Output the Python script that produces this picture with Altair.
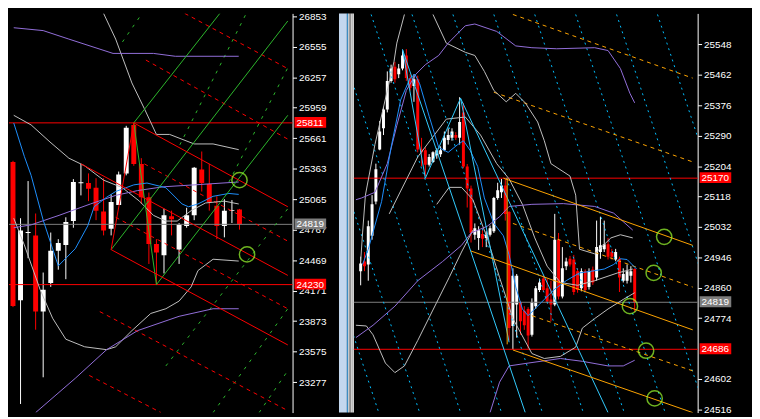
import altair as alt
import pandas as pd

FONT = "Liberation Sans"
H = 404          # plot height of both windows
LW, RW = 287, 348
GAP = 62         # left price scale + window splitter

# ---------------- left window (bar index, price) ----------------
L_OPEN = [25428, 24078, 24735, 24711, 23966, 24246, 24562, 24618, 24851, 25220,
          25223, 25177, 24944, 24776, 25009, 25317, 25791, 25410, 25084, 24627,
          24516, 24897, 24572, 24804, 24907, 25354, 25214, 25000, 24804, 24950, 24963]
L_HIGH = [25440, 24879, 25242, 24925, 24348, 24739, 24674, 24888, 25261, 25410,
          25317, 25270, 25270, 25112, 25335, 25782, 25810, 25466, 25130, 24674,
          24972, 24953, 24832, 24981, 25380, 25531, 25410, 25093, 25065, 25056, 24970]
L_LOW = [24010, 23063, 24488, 23789, 23324, 24208, 24376, 24283, 24786, 25102,
         25046, 24860, 24711, 24711, 25009, 25298, 25391, 25018, 24432, 24232,
         24339, 24711, 24432, 24786, 24860, 25140, 24953, 24674, 24692, 24832, 24767]
L_CLOSE = [24022, 24758, 24745, 23966, 24180, 24562, 24637, 24842, 25233, 25230,
           25168, 24953, 24758, 25037, 25307, 25764, 25410, 25084, 24627, 24544,
           24907, 24870, 24814, 24907, 25372, 25223, 25037, 24804, 24953, 24958, 24819]
L_TICKS = [23277, 23575, 23873, 24171, 24469, 24767, 25065, 25363, 25661,
           25959, 26257, 26555, 26853]
L_RED_LEVELS = [25811, 24230]
L_GRAY_LEVELS = [24819]

L_RED_SOLID = [
    [[13, 24572], [16, 25811]],
    [[16, 25811], [36.4, 24991]],
    [[9, 25410], [36.4, 24320]],
    [[13, 24572], [36.4, 23640]],
]
L_RED_DASH = [
    [[22.75, 26881], [36.4, 26341]],
    [[17.6, 26425], [36.4, 25652]],
    [[17.4, 25410], [36.4, 24655]],
    [[13.6, 24888], [36.4, 23994]],
    [[11.5, 23966], [36.4, 22998]],
    [[10.1, 23342], [19.6, 22979]],
]
L_GREEN_SOLID = [
    [[16, 25811], [27.4, 26881]],
    [[13, 24572], [36.4, 26807]],
    [[19, 24230], [36.4, 25885]],
    [[16, 25811], [19, 24230]],
]
L_GREEN_DASH = [
    [[14.5, 26602], [17.1, 26881]],
    [[22.1, 25596], [30.9, 26881]],
    [[28.6, 25233], [36.4, 26350]],
    [[20.25, 23435], [36.4, 24972]],
    [[26.5, 22979], [36.4, 23994]],
    [[32.6, 22979], [36.4, 23389]],
]
L_PURPLE = [
    [[0.1, 26741], [4, 26713], [7.4, 26630], [13.25, 26490], [18.6, 26490],
     [21.5, 26462], [29.9, 26462]],
    [[0.1, 24786], [2.4, 24814], [6.1, 24907], [10.25, 25018], [13.6, 25102],
     [16.5, 25149], [19.9, 25186], [24, 25205], [29.9, 25233]],
    [[3, 22979], [8.25, 23314], [12.4, 23594], [16.5, 23780], [22, 23920],
     [26.5, 23994], [29.9, 23994]],
]
L_GRAY = [
    [[12, 26881], [13.6, 26630], [15.75, 26201], [17.4, 25950], [19, 25698],
     [20.75, 25698], [24, 25605], [26.5, 25605], [29.9, 25549]],
    [[0.1, 25885], [2.4, 25791], [4.9, 25624], [7.4, 25466], [9.5, 25391],
     [12, 25251], [14.5, 25177], [16.75, 25046], [18.6, 24907], [20.25, 24851],
     [21.75, 24851], [23.6, 24953], [25.5, 25028], [28, 25046], [29.9, 25018]],
    [[0.1, 24879], [1.5, 24618], [3.6, 24180], [5.25, 23901], [7, 23696],
     [9.5, 23622], [12.4, 23594], [13.6, 23622], [15.75, 23780], [18.25, 23948],
     [20.25, 23994], [22, 24069], [23.6, 24208], [24.5, 24367], [26.5, 24478],
     [29.9, 24460]],
]
L_BLUE = [
    [[0.1, 25810], [1.5, 25484], [2.4, 25298], [4, 24860], [6, 24413],
     [8.25, 24581], [9.9, 24804], [10.75, 24991], [12.4, 25084], [13.6, 25140],
     [16, 25205], [17.75, 25223], [20.25, 25177], [22.4, 25018], [23.25, 24991],
     [24.5, 25018], [26.5, 25093], [28.6, 25121], [29.9, 25112]],
]
L_CIRCLES = [[30, 25251], [31, 24525]]

# ---------------- right window ----------------
R_OPEN = [24907, 24934, 24926, 25007, 25104, 25251, 25311, 25364, 25445, 25485,
          25464, 25480, 25517, 25453, 25431, 25450, 25251, 25249, 25208, 25216,
          25235, 25238, 25249, 25278, 25284, 25292, 25284, 25356, 25203, 25141,
          25010, 25001, 25012, 25001, 25010, 25020, 25114, 25130, 25149, 25074,
          24752, 24813, 24819, 24795, 24800, 24727, 24808, 24854, 24886, 24859,
          24827, 24813, 24996, 24835, 24921, 24942, 24940, 24907, 24859, 24907,
          24862, 24912, 24889, 24961, 24969, 24983, 24961, 24940, 24942, 24880,
          24880, 24894, 24913]
R_HIGH = [24948, 24961, 25050, 25122, 25211, 25332, 25372, 25472, 25491, 25499,
          25493, 25531, 25535, 25464, 25464, 25460, 25284, 25257, 25238, 25246,
          25255, 25260, 25302, 25311, 25311, 25300, 25399, 25383, 25210, 25149,
          25042, 25034, 25028, 25020, 25036, 25117, 25157, 25168, 25168, 25077,
          24915, 24899, 24822, 24808, 24805, 24830, 24865, 24886, 24894, 24886,
          24880, 25069, 25015, 24975, 24945, 24950, 24953, 24915, 24915, 24912,
          24915, 24920, 25050, 25061, 25050, 25001, 24970, 24970, 24948, 24915,
          24926, 24921, 24915]
R_LOW = [24867, 24907, 24880, 24996, 25096, 25249, 25292, 25356, 25440, 25440,
         25453, 25475, 25445, 25418, 25386, 25243, 25203, 25176, 25203, 25213,
         25225, 25230, 25246, 25265, 25276, 25278, 25265, 25198, 25087, 24988,
         24996, 24967, 24975, 24975, 25005, 25015, 25109, 25114, 25050, 24711,
         24686, 24719, 24727, 24741, 24688, 24722, 24800, 24848, 24848, 24816,
         24765, 24808, 24827, 24830, 24910, 24920, 24840, 24846, 24850, 24848,
         24855, 24868, 24880, 24942, 24961, 24940, 24940, 24935, 24848, 24875,
         24872, 24875, 24792]
R_CLOSE = [24929, 24921, 25034, 25096, 25195, 25302, 25364, 25445, 25480, 25450,
           25480, 25517, 25453, 25426, 25450, 25251, 25243, 25208, 25230, 25243,
           25249, 25249, 25284, 25292, 25302, 25284, 25329, 25203, 25141, 25015,
           25028, 25023, 24999, 25010, 25028, 25114, 25136, 25149, 25069, 24746,
           24894, 24894, 24765, 24754, 24725, 24819, 24859, 24875, 24854, 24821,
           24813, 24996, 24835, 24915, 24934, 24926, 24848, 24854, 24907, 24854,
           24907, 24875, 24975, 24980, 24983, 24948, 24948, 24961, 24889, 24899,
           24907, 24907, 24819]
# 24688 sits under the 24686 tag in the terminal, so it is not listed
R_TICKS = [24516, 24602, 24774, 24860, 24946, 25032, 25118, 25204,
           25290, 25376, 25462, 25548]
R_RED_LEVELS = [25170, 24686]
R_GRAY_LEVELS = [24819]

R_CYAN_DOT = [
    [[-29.5, 25633], [4.75, 24507]],
    [[-18.75, 25633], [15.5, 24507]],
    [[-8, 25633], [26.25, 24507]],
    [[2.75, 25633], [37, 24507]],
    [[13.5, 25633], [47.75, 24507]],
    [[24.25, 25633], [58.5, 24507]],
    [[35, 25633], [69.25, 24507]],
    [[45.75, 25633], [80, 24507]],
    [[56.5, 25633], [90.75, 24507]],
    [[67.25, 25633], [101.5, 24507]],
    [[78, 25633], [112.25, 24507]],
]
R_CYAN_SOLID = [
    [[11, 25534], [17, 25170]],
    [[17, 25170], [26.25, 25396]],
    [[26.25, 25396], [39, 24706]],
    [[11, 25534], [43.25, 24507]],
    [[26.25, 25396], [65, 24507]],
]
R_ORANGE = [
    [[37.5, 25170], [87.25, 24980]],
    [[29, 24964], [87.25, 24741]],
    [[40, 24684], [87.25, 24507]],
    [[38.5, 25170], [38.5, 24700]],
]
R_ORANGE_DASH = [
    [[40, 25633], [87.25, 25453]],
    [[35, 25413], [87.25, 25216]],
    [[40, 25042], [87.25, 24862]],
    [[45, 24781], [87.25, 24625]],
]
R_PURPLE = [
    [[-1.25, 25109], [0.25, 25114], [3.75, 25130], [7, 25211], [9.5, 25319],
     [12, 25418], [14.5, 25464], [17, 25491], [20.5, 25517], [23, 25552],
     [27.5, 25601], [30, 25606], [35.75, 25585], [40.75, 25544], [45, 25539],
     [51.5, 25536], [61.5, 25539], [65, 25531], [68.25, 25480], [70.75, 25410],
     [72, 25383]],
    [[-1.25, 24719], [3.25, 24754], [9, 24808], [15, 24880], [21.5, 24934],
     [26.5, 24980], [29, 25015], [33.25, 25034], [36.5, 25061], [39, 25090],
     [45, 25096], [53.25, 25098], [61.5, 25090], [66.5, 25071], [71.5, 25023]],
    [[34, 24507], [36.5, 24593], [39, 24639], [44, 24647], [52.5, 24660],
     [58.25, 24652], [65, 24639], [69, 24639], [72, 24655]],
]
R_GRAY = [
    [[11.5, 25633], [9.5, 25552], [8.75, 25499], [7, 25418], [3.75, 25265],
     [1.25, 25122], [0.5, 25015], [0, 24934]],
    [[19, 25633], [22.5, 25552], [27.5, 25526], [30, 25517], [32.5, 25472],
     [35, 25418], [38.25, 25386], [40.75, 25410], [43.25, 25383], [46.5, 25329],
     [48.25, 25276], [50, 25211], [55, 25176], [56.5, 25122], [57.5, 24969],
     [61.5, 24956], [65.75, 25001], [68.25, 25010], [71.5, 25001]],
    [[7.5, 25069], [15, 25230], [22.5, 25337], [27.5, 25343], [31.5, 25292],
     [35.75, 25211], [39, 25168], [42.5, 25096], [45.75, 25001], [49, 24921],
     [52.5, 24875], [57, 24867], [61.5, 24880], [67.5, 24902], [71.5, 24913]],
    [[-1.25, 24754], [1.5, 24752], [3.25, 24727], [6.5, 24647], [9, 24620],
     [11.5, 24639], [15, 24711], [20, 24819], [23.25, 24889], [26.5, 24961],
     [29.5, 25023]],
    [[20, 25096], [23.25, 25144], [26.5, 25144], [29.5, 25109], [33.25, 25001],
     [36.5, 24889], [40, 24773], [45, 24674], [48.25, 24660], [52.5, 24666],
     [56.5, 24692], [58.25, 24746], [61.5, 24773], [65, 24800], [69, 24827],
     [72, 24846]],
]
R_BLUE = [
    [[0.5, 24926], [2, 24969], [5.5, 25104], [8, 25257], [10.5, 25391],
     [13, 25453], [14.25, 25464], [15.5, 25437], [18, 25345], [20.5, 25257],
     [23, 25243], [25.5, 25265], [27, 25276], [28.75, 25249], [30.75, 25203],
     [32.5, 25114], [35, 25042], [37.5, 25007], [39, 24953], [40.75, 24862],
     [42.5, 24800], [44, 24781], [45.75, 24800], [48.25, 24827], [50.75, 24854],
     [54, 24880], [57.5, 24902], [60.75, 24907], [64, 24913], [66.5, 24926],
     [68.25, 24942], [70, 24940], [72.5, 24913]],
]
R_CIRCLES = [[79.75, 25004], [77, 24902], [70.75, 24808], [75, 24682], [77.25, 24547]]


def table(lines):
    rows = []
    for k, pts in enumerate(lines):
        for n, (x, y) in enumerate(pts):
            rows.append({"id": k, "x": x, "y": y, "ord": n})
    return pd.DataFrame(rows)


def window(o, h, l, c, xdom, ydom, ticks, width, body, styled, circles,
           red_levels, gray_levels, extra):
    xs = alt.Scale(domain=xdom, zero=False, nice=False)
    ys = alt.Scale(domain=ydom, zero=False, nice=False)
    axis = alt.Axis(orient="right", values=ticks, format="d", grid=False,
                    domainColor="white", tickColor="white", tickSize=4,
                    labelColor="white", labelFont=FONT, labelFontSize=10,
                    labelPadding=2, labelOverlap=False,
                    minExtent=47, maxExtent=47)

    def X(f):
        return alt.X(f, scale=xs, axis=None)

    def Y(f):
        return alt.Y(f, scale=ys, axis=axis, title=None)

    bars = pd.DataFrame({"i": range(len(o)), "o": o, "h": h, "l": l, "c": c})
    bars["dir"] = ["up" if cc >= oo else "down" for oo, cc in zip(o, c)]
    col = alt.Color("dir:N", legend=None,
                    scale=alt.Scale(domain=["up", "down"], range=["#ffffff", "#ff0000"]))
    base = alt.Chart(bars).encode(x=X("i:Q"), color=col)
    layers = [
        base.mark_rule(clip=True, strokeWidth=1).encode(y=Y("h:Q"), y2="l:Q"),
        base.mark_bar(size=body, clip=True).encode(y=Y("o:Q"), y2="c:Q"),
    ]

    gray = pd.DataFrame({"p": gray_levels, "t": [str(v) for v in gray_levels]})
    red = pd.DataFrame({"p": red_levels, "t": [str(v) for v in red_levels]})
    layers.append(alt.Chart(gray).mark_rule(color="#808080").encode(y=Y("p:Q")))
    layers.append(alt.Chart(red).mark_rule(color="#ff0000").encode(y=Y("p:Q")))

    for lines, style in styled:
        layers.append(
            alt.Chart(table(lines)).mark_line(clip=True, strokeWidth=1, **style)
            .encode(x=X("x:Q"), y=Y("y:Q"), detail="id:N", order="ord:Q"))

    circ = pd.DataFrame(circles, columns=["x", "y"])
    layers.append(alt.Chart(circ).mark_point(shape="circle", filled=False, color="#9dff2f",
                                             size=240, strokeWidth=1.5)
                  .encode(x=X("x:Q"), y=Y("y:Q")))

    # price tags on the scale
    for df, fill in ((gray, "#7d7d7d"), (red, "#ff0000")):
        layers.append(alt.Chart(df).mark_rect(color=fill, yOffset=-6, y2Offset=5)
                      .encode(x=alt.value(width + 2), x2=alt.value(width + 34),
                              y=Y("p:Q"), y2="p:Q"))
        layers.append(alt.Chart(df).mark_text(align="left", baseline="middle", font=FONT,
                                              fontSize=10, color="white")
                      .encode(x=alt.value(width + 4), y=Y("p:Q"), text="t:N"))

    dummy = pd.DataFrame({"a": [0]})
    for x0, x1, fill, op in extra:
        layers.append(alt.Chart(dummy).mark_rect(color=fill, opacity=op)
                      .encode(x=alt.value(x0), x2=alt.value(x1),
                              y=alt.value(0), y2=alt.value(H)))

    return alt.layer(*layers).properties(width=width, height=H)


LEFT_STYLES = [
    (L_GREEN_DASH, {"color": "#2db82d", "strokeDash": [3, 6]}),
    (L_RED_DASH, {"color": "#ff0000", "strokeDash": [4, 4]}),
    (L_GRAY, {"color": "#c0c0c0"}),
    (L_PURPLE, {"color": "#9370db"}),
    (L_BLUE, {"color": "#1e90ff"}),
    (L_GREEN_SOLID, {"color": "#2db82d"}),
    (L_RED_SOLID, {"color": "#ff0000"}),
]
RIGHT_STYLES = [
    (R_CYAN_DOT, {"color": "#00bfff", "strokeDash": [2, 4]}),
    (R_ORANGE_DASH, {"color": "#ffa500", "strokeDash": [4, 4]}),
    (R_GRAY, {"color": "#c0c0c0"}),
    (R_PURPLE, {"color": "#9370db"}),
    (R_BLUE, {"color": "#1e90ff"}),
    (R_CYAN_SOLID, {"color": "#33ccff"}),
    (R_ORANGE, {"color": "#ffa500"}),
]

# splitter between the two windows, drawn right of the left price scale
SPLITTER = [(LW + 47, LW + 55, "#c3d7ee", 1), (LW + 55, LW + 56, "#2c92d6", 1),
            (LW + 56, LW + 57, "#e6eef6", 1), (LW + 57, LW + 59, "#9c9c9c", 1),
            (LW + 59, LW + 61, "#d0d0d0", 1), (LW + 61, LW + 62, "#ffffff", 1)]
# invisible strip that keeps the right price scale area inside the picture
RIGHT_PAD = [(RW, RW + 55, "#000000", 0)]

left = window(L_OPEN, L_HIGH, L_LOW, L_CLOSE, [0.125, 36.375], [22979, 26881],
              L_TICKS, LW, 5, LEFT_STYLES, L_CIRCLES, L_RED_LEVELS, L_GRAY_LEVELS,
              SPLITTER)
right = window(R_OPEN, R_HIGH, R_LOW, R_CLOSE, [-0.5, 87.25], [24507, 25636],
               R_TICKS, RW, 3, RIGHT_STYLES, R_CIRCLES, R_RED_LEVELS, R_GRAY_LEVELS,
               RIGHT_PAD)

chart = alt.hconcat(left, right, spacing=GAP, bounds="flush").resolve_scale(
    x="independent", y="independent"
).properties(padding=0, background="black").configure_view(stroke=None)

chart.save("out.html", embed_options={"renderer": "svg", "actions": False})
